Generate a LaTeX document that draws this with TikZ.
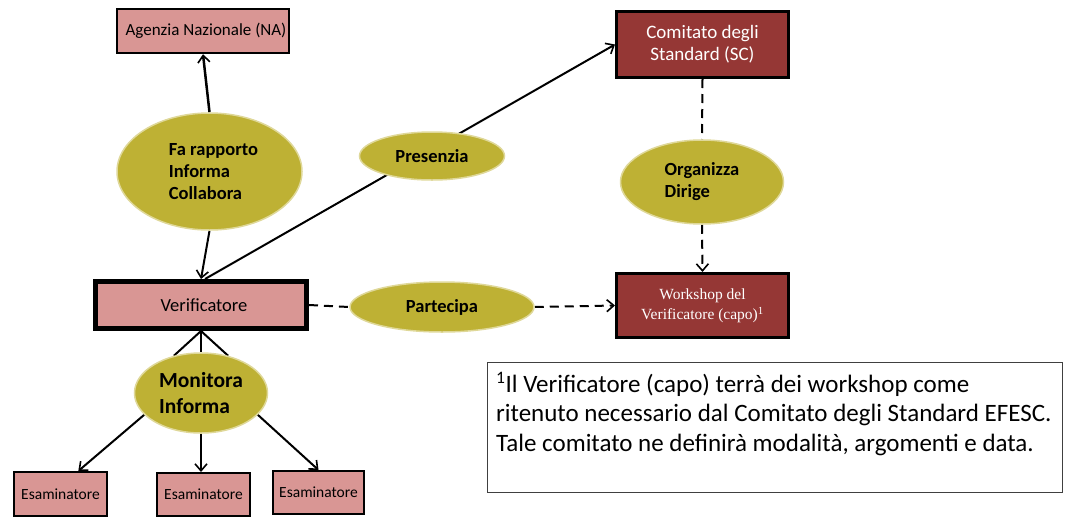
\documentclass[tikz,border=0pt]{standalone}
\usepackage{fontspec}
\setmainfont{Carlito}
\newfontfamily\serifws{Liberation Serif}
\usetikzlibrary{shapes.geometric,arrows.meta,calc,backgrounds}
\definecolor{pinkbox}{RGB}{217,150,148}
\definecolor{redbox}{RGB}{149,55,53}
\definecolor{olivefill}{RGB}{190,177,52}
\begin{document}
\begin{tikzpicture}[x=1pt,y=-1pt,
  box/.style={draw=black, fill=pinkbox, line width=2.5pt, inner sep=0pt, align=center},
  rbox/.style={draw=black, fill=redbox, line width=3pt, text=white, inner sep=0pt, align=center},
  oval/.style={ellipse, fill=olivefill, draw=olivefill!50!white, line width=1.5pt, inner sep=0pt},
  tip/.style={-{Straight Barb[length=7pt,width=12pt,line width=1.6pt]}},
  conn/.style={line width=2pt, tip},
  dconn/.style={line width=2pt, dash pattern=on 9pt off 6pt},
]
\useasboundingbox (0,0) rectangle (1071,520);

% boxes
\node[box, minimum width=172pt, minimum height=44pt, font=\fontsize{17}{20}\selectfont] (na) at (203,31) {\hspace*{6pt}Agenzia Nazionale (NA)};
\node[box, line width=5pt, minimum width=211pt, minimum height=47pt, font=\fontsize{18.5}{21}\selectfont] (ver) at (201,305) {\hspace*{6pt}Verificatore};
\node[rbox, minimum width=172pt, minimum height=66pt, font=\fontsize{19}{22}\selectfont] (sc) at (702.5,44.5) {Comitato degli\\Standard (SC)};
\node[rbox, minimum width=172pt, minimum height=64pt, font=\serifws\fontsize{15.5}{20}\selectfont] (ws) at (702.5,305.5) {Workshop del\\Verificatore (capo)\textsuperscript{1}};
\node[box, line width=2pt, minimum width=93pt, minimum height=44pt, font=\fontsize{15.5}{18}\selectfont] (e1) at (60.5,494) {Esaminatore};
\node[box, line width=2pt, minimum width=93pt, minimum height=43pt, font=\fontsize{15.5}{18}\selectfont] (e2) at (203.5,494.5) {Esaminatore};
\node[box, line width=2pt, minimum width=91pt, minimum height=43pt, font=\fontsize{15.5}{18}\selectfont] (e3) at (318.5,492.5) {Esaminatore};

% ovals
\node[oval, minimum width=185pt, minimum height=117pt, align=left, font=\bfseries\fontsize{18.5}{22}\selectfont] (fa) at (209.5,171.5) {\hspace*{8pt}Fa rapporto\\\hspace*{8pt}Informa\\\hspace*{8pt}Collabora};
\node[oval, minimum width=145pt, minimum height=48pt, font=\bfseries\fontsize{18.5}{21}\selectfont] (pres) at (432,156) {Presenzia};
\node[oval, minimum width=163pt, minimum height=84pt, align=left, font=\bfseries\fontsize{18.5}{22}\selectfont] (org) at (702,182) {Organizza\\Dirige};
\node[oval, minimum width=184pt, minimum height=50pt, font=\bfseries\fontsize{18.5}{21}\selectfont] (par) at (442,307) {Partecipa};
\node[oval, minimum width=133pt, minimum height=80pt, align=left, font=\bfseries\fontsize{21.5}{26}\selectfont] (mon) at (201,393) {Monitora\\Informa};

% note
\node[draw=black!75, line width=1pt, minimum width=575pt, minimum height=130pt, inner sep=0pt] (note) at (774.5,427) {};
\node[anchor=north west, align=left, inner sep=0pt, font=\fontsize{25}{29.5}\selectfont] (notetxt) at (496,372) {\textsuperscript{1}Il Verificatore (capo) terrà dei workshop come\\ritenuto necessario dal Comitato degli Standard EFESC.\\Tale comitato ne definirà modalità, argomenti e data.};

% connectors
\begin{scope}[on background layer]
\draw[conn, line width=2.5pt] (fa.north) -- (na.south);
\draw[conn] (fa.south) -- (ver.north);
\draw[conn] ($(ver.north)+(4,0)$) -- (sc.west);
\draw[dconn] (sc.south) -- (org.north);
\draw[dconn, tip] (org.south) -- (ws.north);
\draw[dconn] (ver.east) -- (par.west);
\draw[dconn, tip] (par.east) -- (ws.west);
\draw[line width=2pt] (ver.south) -- (mon.126);
\draw[line width=2pt] (ver.south) -- (mon.north);
\draw[line width=2pt] (ver.south) -- (mon.54);
\draw[conn] (mon.201) -- ($(e1.north)!0.375!(e1.north east)$);
\draw[conn] (mon.south) -- (mon.south |- e2.north);
\draw[conn] (mon.339) -- (e3.north);
\end{scope}
\end{tikzpicture}
\end{document}
